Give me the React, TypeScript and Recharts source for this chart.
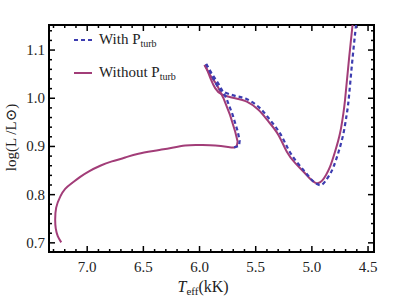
import React from 'react';
import { LineChart, Line, XAxis, YAxis, Label, ReferenceLine } from 'recharts';

// tick labels
const xMajorTicks = [7.0, 6.5, 6.0, 5.5, 5.0, 4.5];
const yMajorTicks = [0.7, 0.8, 0.9, 1.0, 1.1];

// track without turbulent pressure: Teff (kK) and log(L/Lsun)
// part 1: from the start to the hook near 5.67 kK
const teffWithoutA = [
  7.231, 7.262, 7.28, 7.285, 7.276, 7.24, 7.196, 7.136, 7.062, 6.988, 6.884, 6.78, 6.662, 6.544,
  6.321, 6.128, 5.995, 5.861, 5.746, 5.692, 5.668,
];
const logLWithoutA = [
  0.701, 0.714, 0.73, 0.748, 0.773, 0.796, 0.812, 0.824, 0.837, 0.848, 0.86, 0.869, 0.877, 0.885,
  0.894, 0.902, 0.903, 0.902, 0.899, 0.898, 0.901,
];
// part 2: hook up to the tip at 5.96 kK
const teffWithoutB = [5.668, 5.661, 5.683, 5.728, 5.787, 5.846, 5.906, 5.956];
const logLWithoutB = [0.901, 0.91, 0.931, 0.965, 1.0, 1.028, 1.048, 1.069];
// part 3: tip, down through the minimum near 4.95 kK and up again
const teffWithoutC = [
  5.956, 5.932, 5.897, 5.861, 5.802, 5.683, 5.579, 5.476, 5.387, 5.298, 5.223, 5.15, 5.076, 5.016,
  4.972, 4.942, 4.909, 4.874, 4.838, 4.794, 4.749, 4.722, 4.705, 4.673, 4.638, 4.633,
];
const logLWithoutC = [
  1.069, 1.059, 1.038, 1.021, 1.008, 1.0, 0.993, 0.976, 0.952, 0.924, 0.889, 0.866, 0.848, 0.833,
  0.825, 0.824, 0.829, 0.841, 0.858, 0.889, 0.928, 0.965, 0.996, 1.073, 1.152, 1.162,
];

// track with turbulent pressure
const teffWithB = [5.692, 5.648, 5.643, 5.661, 5.706, 5.763, 5.826, 5.888, 5.941];
const logLWithB = [0.898, 0.901, 0.912, 0.932, 0.966, 1.001, 1.028, 1.05, 1.071];
const teffWithC = [
  5.941, 5.915, 5.879, 5.843, 5.79, 5.683, 5.577, 5.465, 5.372, 5.283, 5.207, 5.132, 5.06, 4.998,
  4.954, 4.918, 4.883, 4.843, 4.807, 4.762, 4.718, 4.691, 4.673, 4.642, 4.607, 4.602,
];
const logLWithC = [
  1.071, 1.059, 1.042, 1.026, 1.014, 1.005, 0.998, 0.98, 0.955, 0.927, 0.893, 0.867, 0.847, 0.83,
  0.822, 0.82, 0.827, 0.841, 0.858, 0.889, 0.928, 0.965, 0.996, 1.073, 1.152, 1.162,
];

const X_DOMAIN: [number, number] = [4.447, 7.34];
const Y_DOMAIN: [number, number] = [0.681, 1.152];

// plot area size in px (400x303 chart minus axes/margins)
const PLOT_W = 325;
const PLOT_H = 227;
const xPerPx = (X_DOMAIN[1] - X_DOMAIN[0]) / PLOT_W;
const yPerPx = (Y_DOMAIN[1] - Y_DOMAIN[0]) / PLOT_H;

const SOLID = '#a23d78';
const DASHED = '#3c3cb0';
const FONT = '"Liberation Serif", "DejaVu Serif", serif';

const stepTicks = (from: number, to: number, step: number) => {
  const out: number[] = [];
  for (let v = from; v <= to + 1e-9; v += step) out.push(Math.round(v * 100) / 100);
  return out;
};
const xAllTicks = stepTicks(4.5, 7.3, 0.1);
const yAllTicks = stepTicks(0.7, 1.14, 0.02);

const isMajor = (v: number, majors: number[]) => majors.some(m => Math.abs(m - v) < 1e-6);

const zip = (ts: number[], ls: number[]) => ts.map((t, i) => ({ t, l: ls[i] }));

const withoutA = zip(teffWithoutA, logLWithoutA);
const withoutB = zip(teffWithoutB, logLWithoutB);
const withoutC = zip(teffWithoutC, logLWithoutC);
const withB = zip(teffWithB, logLWithB);
const withC = zip(teffWithC, logLWithC);

const AxisLabel = (props: any) => {
  const side: string = props.side;
  const x = Number(props.x);
  const y = Number(props.y);
  const v = Number(props.payload.value);
  if (side === 'bottom' && isMajor(v, xMajorTicks)) {
    return (
      <text x={x} y={y + 20} textAnchor="middle" fontFamily={FONT} fontSize={15} fill="#222">
        {v.toFixed(1)}
      </text>
    );
  }
  if (side === 'left' && isMajor(v, yMajorTicks)) {
    return (
      <text x={x - 4} y={y + 5} textAnchor="end" fontFamily={FONT} fontSize={15} fill="#222">
        {v.toFixed(1)}
      </text>
    );
  }
  return <g />;
};

const XTitle = (props: any) => {
  const vb = props.viewBox || { x: 49, y: 252, width: 325 };
  return (
    <text x={vb.x + vb.width / 2 - 34} y={vb.y + 40} fontFamily={FONT} fontSize={16} fill="#222">
      <tspan fontStyle="italic">T</tspan>
      <tspan fontSize={11} dy={3}>eff</tspan>
      <tspan dy={-3}>(kK)</tspan>
    </text>
  );
};

const YTitle = (props: any) => {
  const vb = props.viewBox || { x: 0, y: 25, height: 227 };
  const cx = vb.x + 16;
  const cy = vb.y + vb.height / 2 - 1;
  return (
    <text x={cx} y={cy} transform={`rotate(-90 ${cx} ${cy})`} textAnchor="middle" fontFamily={FONT} fontSize={15} fill="#222">
      log(L /L⊙)
    </text>
  );
};

const LegendRow = ({ dashed, label }: { dashed: boolean; label: string }) => (
  <div style={{ display: 'flex', alignItems: 'center', height: 20 }}>
    <svg width={22} height={10} style={{ marginRight: 5 }}>
      <line x1={2} x2={20} y1={5} y2={5} stroke={dashed ? DASHED : SOLID} strokeWidth={2} strokeDasharray={dashed ? '4 3' : undefined} />
    </svg>
    <span style={{ fontFamily: FONT, fontSize: 15, color: '#222' }}>
      {label} P<sub style={{ fontSize: 10, verticalAlign: -3 }}>turb</sub>
    </span>
  </div>
);

const refCommon = { xAxisId: 'b', yAxisId: 'l', stroke: '#000', ifOverflow: 'visible' as const };

// black frame round the plot area
const frameLines = () => [
  <ReferenceLine key="fl" {...refCommon} strokeWidth={2} strokeLinecap="square" x={X_DOMAIN[1]} />,
  <ReferenceLine key="fr" {...refCommon} strokeWidth={2} strokeLinecap="square" x={X_DOMAIN[0]} />,
  <ReferenceLine key="fb" {...refCommon} strokeWidth={2} strokeLinecap="square" y={Y_DOMAIN[0]} />,
  <ReferenceLine key="ft" {...refCommon} strokeWidth={2} strokeLinecap="square" y={Y_DOMAIN[1]} />,
];

// inward tick marks on all four sides of the frame
const tickMarks = () => {
  const marks: React.ReactNode[] = [];
  xAllTicks.forEach(v => {
    const len = (isMajor(v, xMajorTicks) ? 6 : 3) * yPerPx;
    marks.push(<ReferenceLine key={`xb${v}`} {...refCommon} strokeWidth={1.5} segment={[{ x: v, y: Y_DOMAIN[0] }, { x: v, y: Y_DOMAIN[0] + len }]} />);
    marks.push(<ReferenceLine key={`xt${v}`} {...refCommon} strokeWidth={1.5} segment={[{ x: v, y: Y_DOMAIN[1] }, { x: v, y: Y_DOMAIN[1] - len }]} />);
  });
  yAllTicks.forEach(v => {
    const len = (isMajor(v, yMajorTicks) ? 6 : 3) * xPerPx;
    // x axis is reversed: the left edge is the high end of the domain
    marks.push(<ReferenceLine key={`yl${v}`} {...refCommon} strokeWidth={1.5} segment={[{ x: X_DOMAIN[1], y: v }, { x: X_DOMAIN[1] - len, y: v }]} />);
    marks.push(<ReferenceLine key={`yr${v}`} {...refCommon} strokeWidth={1.5} segment={[{ x: X_DOMAIN[0], y: v }, { x: X_DOMAIN[0] + len, y: v }]} />);
  });
  return marks;
};

const solidProps = { xAxisId: 'b', yAxisId: 'l', dataKey: 'l', stroke: SOLID, strokeWidth: 2, dot: false, isAnimationActive: false };
const dashedProps = { xAxisId: 'b', yAxisId: 'l', dataKey: 'l', stroke: DASHED, strokeWidth: 2.2, strokeDasharray: '4 3', dot: false, isAnimationActive: false };

const HrTrackChart: React.FC = () => (
  <div style={{ position: 'absolute', left: 0, top: 0, width: 400, height: 303, background: '#fff' }}>
    <LineChart width={400} height={303} margin={{ top: 25, right: 26, left: 0, bottom: 0 }}>
      <XAxis
        xAxisId="b" type="number" dataKey="t" domain={X_DOMAIN} allowDataOverflow reversed
        ticks={xAllTicks} interval={0} tickLine={false} tickSize={0} tickMargin={0}
        height={51} axisLine={false} tick={(p: any) => <AxisLabel {...p} side="bottom" />}
      >
        <Label content={<XTitle />} />
      </XAxis>
      <YAxis
        yAxisId="l" type="number" domain={Y_DOMAIN} allowDataOverflow
        ticks={yAllTicks} interval={0} tickLine={false} tickSize={0} tickMargin={0}
        width={49} axisLine={false} tick={(p: any) => <AxisLabel {...p} side="left" />}
      >
        <Label content={<YTitle />} />
      </YAxis>
      {frameLines()}
      {tickMarks()}
      <Line {...solidProps} data={withoutA} type="natural" />
      <Line {...solidProps} data={withoutB} type="linear" />
      <Line {...solidProps} data={withoutC} type="natural" />
      <Line {...dashedProps} data={withB} type="linear" />
      <Line {...dashedProps} data={withC} type="natural" />
    </LineChart>
    <div style={{ position: 'absolute', left: 72, top: 30 }}>
      <LegendRow dashed label="With" />
      <div style={{ height: 13 }} />
      <LegendRow dashed={false} label="Without" />
    </div>
  </div>
);

export default HrTrackChart;
